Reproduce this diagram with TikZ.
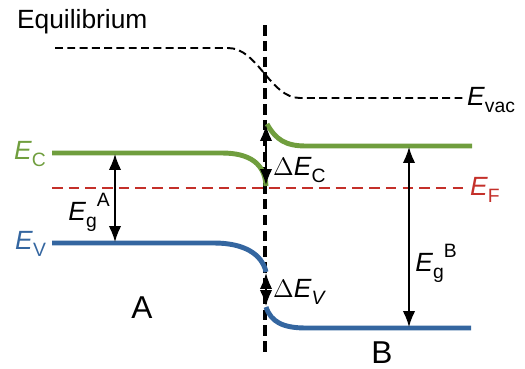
\documentclass[tikz,border=0pt]{standalone}
\usepackage{fontspec}
\setmainfont{Liberation Sans}
\usetikzlibrary{arrows.meta}

\definecolor{vertbande}{RGB}{112,158,62}
\definecolor{bleubande}{RGB}{52,102,160}
\definecolor{rougef}{RGB}{196,48,42}

\newcommand{\bsub}[1]{\raisebox{-0.45ex}{\fontsize{11}{11}\selectfont #1}}
\newcommand{\bsup}[1]{\raisebox{1.05ex}{\fontsize{11}{11}\selectfont #1}}

\tikzset{
  bande/.style = {line width=2.8pt},
  fleche/.style = {line width=0.9pt, {Latex[length=9pt,width=7pt]}-{Latex[length=9pt,width=7pt]}},
  etiq/.style = {font=\fontsize{15}{18}\selectfont, inner sep=1pt}
}

\begin{document}
\begin{tikzpicture}[x=0.02cm, y=-0.02cm]
  \useasboundingbox (0,0) rectangle (525,369);

  % L'interface
  \draw[line width=2pt, dash pattern=on 6pt off 3pt] (265,25) -- (265,357);

  % Le niveau du vide
  \draw[line width=1.1pt, dash pattern=on 4.5pt off 2.5pt]
    (55,48) -- (228,48) .. controls (258,48) and (270,98) .. (300,98) -- (463,98);

  % Les bandes
  \draw[bande, vertbande] (52,153) -- (222,153) .. controls (250,153) and (265,164) .. (266,186);
  \draw[bande, vertbande] (267,124) .. controls (276,140) and (286,146) .. (306,146) -- (472,146);
  \draw[bande, bleubande] (52,243) -- (214,243) .. controls (244,243) and (262,254) .. (266,272);
  \draw[bande, bleubande] (266,307) .. controls (271,322) and (283,328) .. (306,328) -- (471,328);
  \draw[line width=1.2pt, rougef, dash pattern=on 6pt off 3.5pt] (52,188) -- (463,188);

  % Les fleches
  \coordinate (gAh) at (115,154);
  \coordinate (gAb) at (115,242);
  \coordinate (dCh) at (266,125);
  \coordinate (dCb) at (266,185);
  \coordinate (dVh) at (266,273);
  \coordinate (dVb) at (266,306);
  \coordinate (gBh) at (409,147);
  \coordinate (gBb) at (409,327);
  \draw[fleche] (gAh) -- (gAb);
  \draw[fleche] (dCh) -- (dCb);
  \draw[fleche] (dVh) -- (dVb);
  \draw[fleche] (gBh) -- (gBb);

  % Les lettres
  \node[etiq, anchor=west] (titre) at (15,22) {Equilibrium};
  \node[etiq, anchor=west] (evac) at (465,100) {\textit{E}\bsub{vac}};
  \node[etiq, anchor=east, vertbande] (ec) at (48,154) {\textit{E}\bsub{C}};
  \node[etiq, anchor=west, rougef] (ef) at (468,190) {\textit{E}\bsub{F}};
  \node[etiq, anchor=east, bleubande] (ev) at (48,244) {\textit{E}\bsub{V}};
  \node[etiq, anchor=west] (dec) at (271,170) {$\Delta$\textit{E}\bsub{C}};
  \node[etiq, anchor=west] (dev) at (271,292) {$\Delta$\textit{E}\bsub{\textit{V}}};
  \node[etiq] (ega) at (89,212) {\textit{E}\bsub{g}\bsup{A}};
  \node[etiq] (egb) at (436,263) {\textit{E}\bsub{g}\bsup{B}};
  \node[font=\fontsize{18}{20}\selectfont] (na) at (142,308) {A};
  \node[font=\fontsize{18}{20}\selectfont] (nb) at (382,353) {B};

\end{tikzpicture}
\end{document}
